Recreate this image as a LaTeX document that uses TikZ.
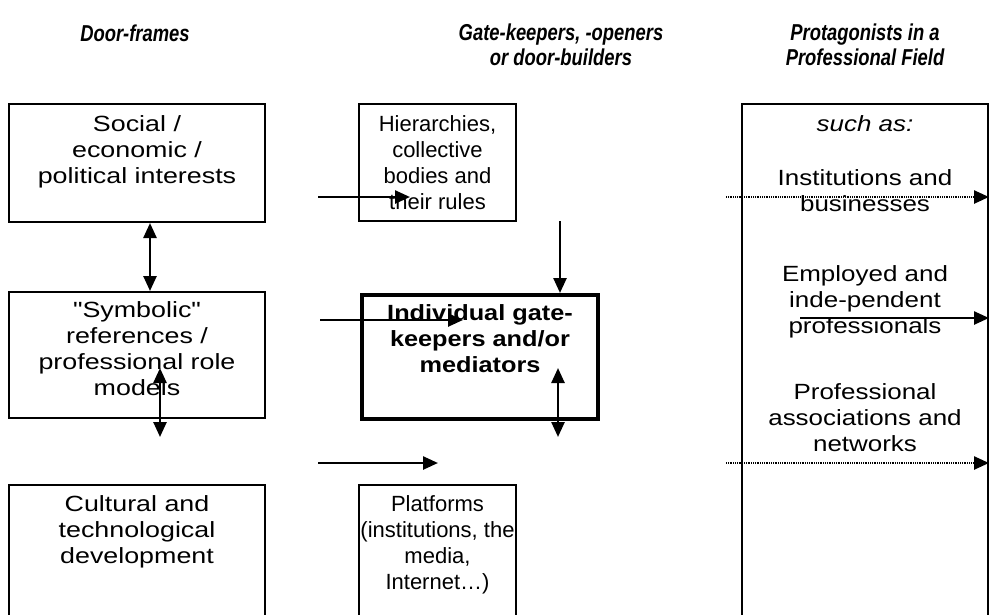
\documentclass[tikz,border=0pt]{standalone}
\usepackage{fontspec}
\setmainfont{Liberation Sans}
\newfontfamily\hdfont[FakeStretch=0.8]{Liberation Sans}
\newfontfamily\leftfont[FakeStretch=1.22,Ligatures=TeXOff]{Liberation Sans}
\newfontfamily\midfont[FakeStretch=1.15]{Liberation Sans}
\newfontfamily\rightfont[FakeStretch=1.18]{Liberation Sans}
\usetikzlibrary{arrows.meta}
\newcommand\boxtxt[4]{\parbox[c][#2][t]{#1}{\vspace*{#3}\centering\strut #4\strut}}
\begin{document}
\begin{tikzpicture}[x=1pt,y=-1pt,
  box/.style={draw, line width=2pt, inner sep=0pt, anchor=north west, font=\fontsize{22}{26}\selectfont},
  hd/.style={font=\hdfont\bfseries\itshape\fontsize{23}{25}\selectfont, align=center, inner sep=0pt},
  arr/.style={line width=2.5pt, -{Triangle[length=15pt,width=13pt]}},
  darr/.style={line width=2.5pt, {Triangle[length=15pt,width=13pt]}-{Triangle[length=15pt,width=13pt]}},
  dotarr/.style={line width=2.5pt, dash pattern=on 1pt off 0.8pt, -{Triangle[length=15pt,width=13pt]}}]
\useasboundingbox (0,0) rectangle (993,614);
\fill[white] (0,0) rectangle (993,614);
% headers
\node[hd] (h1) at (135,33) {Door-frames};
\node[hd] (h2) at (561,45) {Gate-keepers, -openers\\or door-builders};
\node[hd] (h3) at (865,45) {Protagonists in a\\Professional Field};
% boxes
\node[box] (social) at (8,103) {\leftfont\boxtxt{256pt}{118pt}{9.5pt}{Social /\\ economic /\\ political interests}};
\node[box] (hier) at (358,103) {\boxtxt{157pt}{117pt}{9.5pt}{Hierarchies,\\ collective\\ bodies and\\ their rules}};
\node[box] (symb) at (8,291) {\leftfont\boxtxt{256pt}{126pt}{7.5pt}{"Symbolic"\\ references /\\ professional role\\ models}};
\node[box, line width=4pt] (indiv) at (360,293) {\midfont\boxtxt{236pt}{124pt}{7.5pt}{\bfseries Individual gate-\\ keepers and/or\\ mediators}};
\node[box] (cult) at (8,484) {\leftfont\boxtxt{256pt}{136pt}{8.5pt}{Cultural and\\ technological\\ development}};
\node[box] (plat) at (358,484) {\boxtxt{157pt}{136pt}{8.5pt}{Platforms\\ (institutions, the\\ media,\\ Internet…)}};
\node[box] (prot) at (741,103) {\rightfont\boxtxt{246pt}{520pt}{9pt}{\itshape such as:\\[28pt]\upshape Institutions and\\ businesses\\[44pt] Employed and\\ inde-pendent\\ professionals\\[40pt] Professional\\ associations and\\ networks}};
% connectors
\coordinate (a1s) at (318,197); \coordinate (a1e) at (410,197);
\draw[arr] (a1s) -- (a1e);
\coordinate (c150) at (150,0);
\draw[darr] (social.south -| c150) -- (symb.north -| c150);
\coordinate (a3s) at (560,221);
\draw[arr] (a3s) -- (a3s |- indiv.north);
\coordinate (a4s) at (320,320); \coordinate (a4e) at (463,320);
\draw[arr] (a4s) -- (a4e);
\coordinate (a5s) at (160,368); \coordinate (a5e) at (160,437);
\draw[darr] (a5s) -- (a5e);
\coordinate (a6s) at (558,368); \coordinate (a6e) at (558,437);
\draw[darr] (a6s) -- (a6e);
\coordinate (a7s) at (318,463); \coordinate (a7e) at (438,463);
\draw[arr] (a7s) -- (a7e);
\coordinate (a8s) at (726,197);
\draw[dotarr] (a8s) -- (prot.east |- a8s);
\coordinate (a9s) at (800,318);
\draw[arr] (a9s) -- (prot.east |- a9s);
\coordinate (a10s) at (726,463);
\draw[dotarr] (a10s) -- (prot.east |- a10s);
\end{tikzpicture}
\end{document}
